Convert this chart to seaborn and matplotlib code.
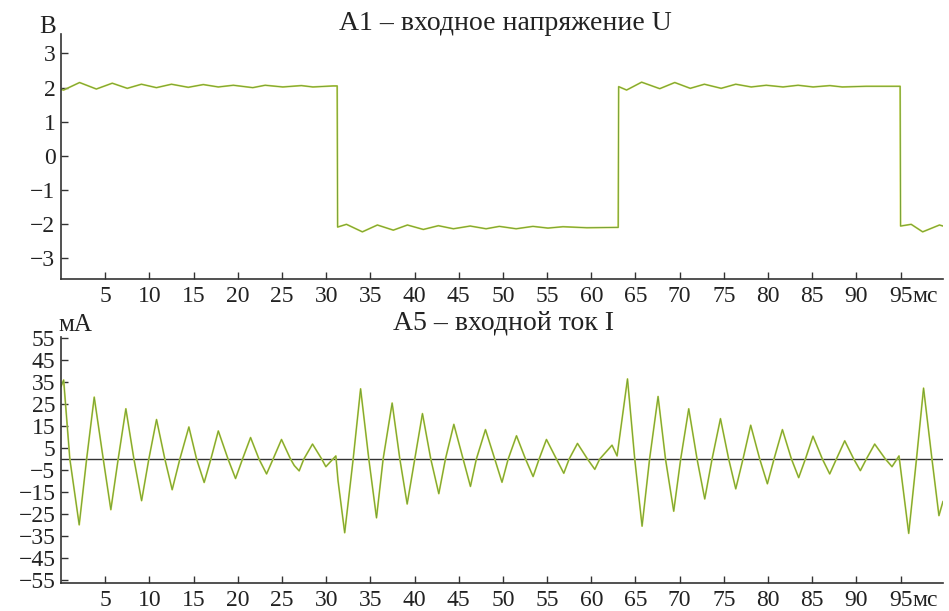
import matplotlib
matplotlib.use("Agg")
import matplotlib.pyplot as plt
import matplotlib.transforms as mtransforms
import seaborn as sns

# A1 - input voltage U (V): time in ms
u_t = [0.0, 0.3, 2.1, 4.0, 5.8, 7.5, 9.1, 10.8, 12.5, 14.4, 16.1, 17.8, 19.5, 21.7, 23.1, 25.1, 27.2, 28.5, 30.8, 31.25,
       31.3, 32.3, 34.1, 35.8, 37.6, 39.2, 41.0, 42.7, 44.4, 46.3, 48.1, 49.6, 51.5, 53.4, 55.1, 56.8, 59.5, 62.85, 63.05,
       63.1, 64.0, 65.7, 67.75, 69.45, 71.2, 72.8, 74.7, 76.35, 78.1, 79.8, 81.7, 83.4, 85.1, 87.0, 88.4, 91.1, 94.7, 94.95,
       95.0, 96.2, 97.5, 99.4, 99.8]
u_v = [1.95, 1.93, 2.15, 1.96, 2.13, 1.98, 2.10, 2.00, 2.10, 2.01, 2.09, 2.02, 2.07, 2.00, 2.07, 2.02, 2.06, 2.02, 2.05, 2.05,
       -2.08, -2.00, -2.22, -2.02, -2.17, -2.02, -2.15, -2.04, -2.13, -2.05, -2.13, -2.06, -2.13, -2.06, -2.11, -2.07, -2.10, -2.09, -2.09,
       2.03, 1.93, 2.16, 1.97, 2.15, 1.98, 2.10, 1.98, 2.10, 2.02, 2.07, 2.02, 2.07, 2.02, 2.06, 2.02, 2.04, 2.04, 2.04,
       -2.05, -2.00, -2.22, -2.02, -2.05]

# A5 - input current I (mA): peaks, troughs and zero crossings
i_t = [0.0, 0.3, 1.0, 2.06, 2.9, 3.76, 4.78, 5.64, 6.47, 7.34, 8.25, 9.12, 9.94, 10.81, 11.75, 12.58, 13.45, 14.47,
       15.34, 16.2, 16.96, 17.8, 18.9, 19.75, 20.54, 21.45, 22.4, 23.26, 24.0, 24.95, 25.97, 26.4, 26.95, 27.48, 28.46,
       29.5, 29.97, 31.1, 31.35,
       32.1, 33.06, 33.9, 34.83, 35.7, 36.45, 37.47, 38.34, 39.17, 40.03, 40.9, 41.84, 42.75, 43.5, 44.45, 45.5, 46.33,
       47.0, 48.03, 49.08, 49.9, 50.6, 51.54, 52.56, 53.42, 54.1, 54.93, 56.06, 56.89, 57.5, 58.44, 59.57, 60.4, 60.96,
       62.35, 62.92, 64.1, 64.92,
       65.75, 66.6, 67.56, 68.4, 69.33, 70.12, 71.03, 71.97, 72.84, 73.67, 74.62, 75.55, 76.35, 77.17, 78.04, 79.06,
       79.93, 80.68, 81.63, 82.65, 83.47, 84.23, 85.09, 86.15, 86.98, 87.74, 88.68, 89.7, 90.45, 91.13, 92.07, 93.28,
       94.03, 94.82, 95.92, 96.8, 97.6, 98.55, 99.34, 99.8]
i_v = [33.0, 36.0, 0.0, -30.0, 0.0, 28.2, 0.0, -23.1, 0.0, 22.9, 0.0, -19.0, 0.0, 18.0, 0.0, -14.0, 0.0, 14.6,
       0.0, -10.7, 0.0, 12.8, 0.0, -8.9, 0.0, 9.8, 0.0, -6.8, 0.0, 8.9, 0.0, -3.0, -5.4, 0.0, 6.8,
       0.0, -3.5, 1.4, -10.0,
       -33.6, 0.0, 32.0, 0.0, -26.8, 0.0, 25.5, 0.0, -20.5, 0.0, 20.7, 0.0, -15.8, 0.0, 15.8, 0.0, -12.5,
       0.0, 13.4, 0.0, -10.6, 0.0, 10.6, 0.0, -8.0, 0.0, 8.9, 0.0, -6.5, 0.0, 7.1, 0.0, -4.7, 0.0,
       6.3, 1.4, 36.5, 0.0,
       -30.6, 0.0, 28.5, 0.0, -23.8, 0.0, 22.9, 0.0, -18.2, 0.0, 18.4, 0.0, -13.6, 0.0, 15.4, 0.0,
       -11.3, 0.0, 13.4, 0.0, -8.5, 0.0, 10.4, 0.0, -6.8, 0.0, 8.3, 0.0, -5.3, 0.0, 6.8, 0.0,
       -3.5, 1.4, -33.9, 0.0, 32.3, 0.0, -25.8, -19.3]

x_ticks = [5, 10, 15, 20, 25, 30, 35, 40, 45, 50, 55, 60, 65, 70, 75, 80, 85, 90, 95]
u_ticks = [-3, -2, -1, 0, 1, 2, 3]
i_ticks = [-55, -45, -35, -25, -15, -5, 5, 15, 25, 35, 45, 55]

sns.set_style("ticks")
plt.rcParams["font.family"] = ["Liberation Serif", "DejaVu Serif"]
plt.rcParams["axes.unicode_minus"] = True
ink = "#222222"
tick_fs = 17
pad_pt = 5

fig = plt.figure(figsize=(9.49, 6.11), dpi=100)
ax1 = fig.add_axes([61 / 949, 1 - 279 / 611, (943 - 61) / 949, (279 - 34) / 611])
ax2 = fig.add_axes([61 / 949, 1 - 583 / 611, (943 - 61) / 949, (583 - 337) / 611])


def trace(ax, x, y):
    # yellow and green channel drawn on top of each other, like the scope picture
    sns.lineplot(x=x, y=y, ax=ax, color="#d0d64a", lw=1.3, estimator=None, sort=False)
    sns.lineplot(x=x, y=y, ax=ax, color="#4a8c34", lw=0.7, alpha=0.7, estimator=None, sort=False)


trace(ax1, u_t, u_v)
trace(ax2, i_t, i_v)
ax2.axhline(0, color="#333333", lw=1.0, zorder=1)

ax1.set_ylim(-3.6, 3.57)
ax2.set_ylim(-56.5, 55.6)
ax1.set_yticks(u_ticks)
ax2.set_yticks(i_ticks)

for ax in (ax1, ax2):
    ax.set_xlim(0, 99.8)
    ax.set_xticks(x_ticks)
    ax.set_xticklabels([str(v) for v in x_ticks])
    ax.set_xlabel("")
    ax.set_ylabel("")
    sns.despine(ax=ax)
    for s in ("left", "bottom"):
        ax.spines[s].set_color("#333333")
        ax.spines[s].set_linewidth(1.2)
    ax.tick_params(direction="in", length=5, width=1, colors="#333333", labelcolor=ink, labelsize=tick_fs)
    ax.tick_params(axis="x", pad=pad_pt)
    ax.tick_params(axis="y", pad=4)
    # unit after the last x label, on the same line as the tick labels
    tr = mtransforms.blended_transform_factory(ax.transData, ax.transAxes)
    tr = tr + mtransforms.ScaledTranslation(0, -pad_pt / 72, fig.dpi_scale_trans)
    ax.text(96.4, 0, "мс", transform=tr, fontsize=tick_fs, color=ink, ha="left", va="top")

fig.text(505 / 949, 1 - 24 / 611, "A1 – входное напряжение U", fontsize=20, color=ink, ha="center", va="center")
fig.text(504 / 949, 1 - 323 / 611, "A5 – входной ток I", fontsize=20, color=ink, ha="center", va="center")
fig.text(48 / 949, 1 - 27 / 611, "В", fontsize=18, color=ink, ha="center", va="center")
fig.text(58 / 949, 1 - 325 / 611, "мА", fontsize=18, color=ink, ha="left", va="center")

fig.savefig("out.png", dpi=100)
